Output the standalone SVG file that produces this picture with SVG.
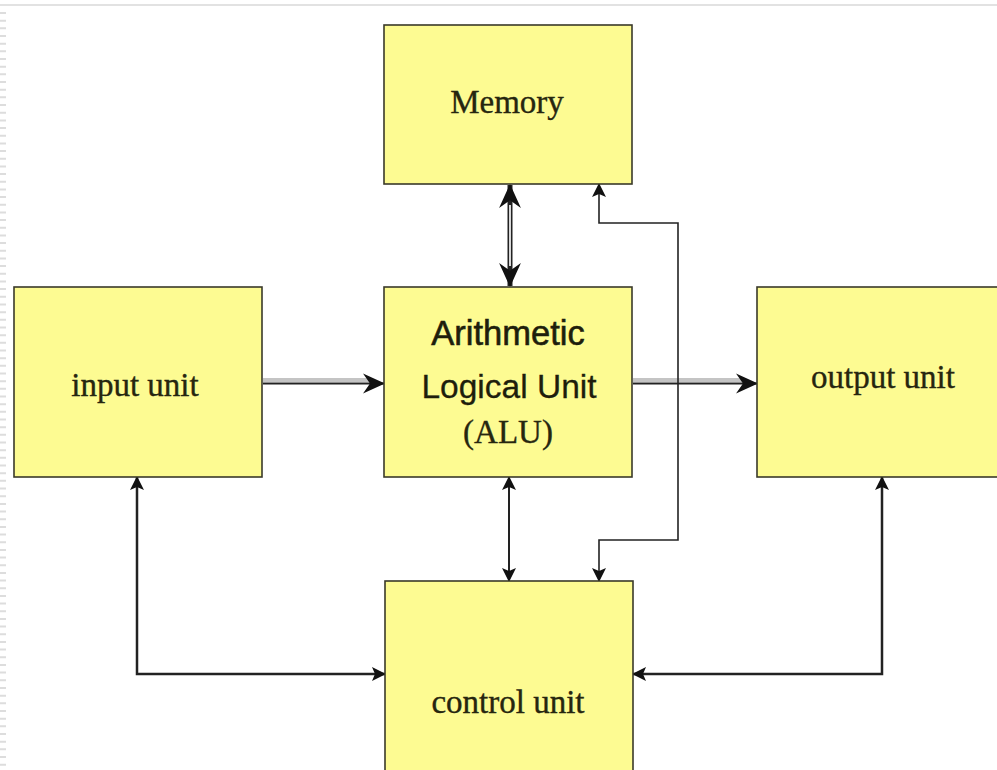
<svg xmlns="http://www.w3.org/2000/svg" width="997" height="770" viewBox="0 0 997 770">
<style>
.box{fill:#fdfb92;stroke:#3a3a2a;stroke-width:1.6}
.serif{font-family:"Liberation Serif","Times New Roman",serif;fill:#26260f;stroke:#26260f;stroke-width:0.35;text-anchor:middle}
.sans{font-family:"Liberation Sans",Arial,sans-serif;fill:#1e1e0c;text-anchor:middle}
.ln{fill:none;stroke:#222;stroke-linejoin:miter}
</style>
<defs>
<marker id="tri" viewBox="0 0 14 14" refX="13" refY="7" markerWidth="14" markerHeight="14" markerUnits="userSpaceOnUse" orient="auto-start-reverse">
<path d="M0,0 L14,7 L0,14 L3,7 Z" fill="#111"/>
</marker>
<marker id="chev" viewBox="0 0 22 22" refX="21" refY="11" markerWidth="22" markerHeight="22" markerUnits="userSpaceOnUse" orient="auto-start-reverse">
<path d="M0,1 L22,11 L0,21 L7,11 Z" fill="#111"/>
</marker>
<marker id="chevbig" viewBox="0 0 22 22" refX="21" refY="11" markerWidth="26" markerHeight="24" markerUnits="userSpaceOnUse" orient="auto-start-reverse">
<path d="M0,1 L22,11 L0,21 L7,11 Z" fill="#111"/>
</marker>
</defs>
<rect width="997" height="770" fill="#ffffff"/>
<line x1="0" y1="5" x2="997" y2="5" stroke="#e2e2e2" stroke-width="2"/>
<line x1="3" y1="12" x2="3" y2="770" stroke="#dddddd" stroke-width="6" stroke-dasharray="2 5.67"/>

<g id="connectors">
<path class="ln" d="M510,185 L510,286" stroke-width="5" marker-start="url(#chevbig)" marker-end="url(#chevbig)"/>
<path d="M510,205 L510,266" stroke="#d8d8d8" stroke-width="2"/>
<line x1="263" y1="380" x2="372" y2="380" stroke="#c4c4c4" stroke-width="4"/>
<path class="ln" d="M263,383.5 L384,383.5" stroke-width="2" marker-end="url(#chev)"/>
<line x1="633" y1="380" x2="745" y2="380" stroke="#c4c4c4" stroke-width="4"/>
<path class="ln" d="M633,383.5 L757,383.5" stroke-width="2" marker-end="url(#chev)"/>
<path class="ln" d="M599,184 L599,223 L678,223 L678,540 L599,540 L599,581" stroke-width="1.6" marker-start="url(#tri)" marker-end="url(#tri)"/>
<path class="ln" d="M509,477 L509,581" stroke-width="2" marker-start="url(#tri)" marker-end="url(#tri)"/>
<path class="ln" d="M137,477 L137,674 L385,674" stroke-width="2.5" marker-start="url(#tri)" marker-end="url(#tri)"/>
<path class="ln" d="M882,477 L882,674 L633,674" stroke-width="2.5" marker-start="url(#tri)" marker-end="url(#tri)"/>
</g>

<g id="memory">
<rect class="box" x="384" y="25" width="248" height="159"/>
<text class="serif" x="507" y="113" font-size="33">Memory</text>
</g>
<g id="alu">
<rect class="box" x="384" y="287" width="248" height="190"/>
<text class="sans" x="508" y="345" font-size="34.5" stroke="#1e1e0c" stroke-width="0.6">Arithmetic</text>
<text class="sans" x="509" y="398" font-size="33.5" stroke="#1e1e0c" stroke-width="0.3">Logical Unit</text>
<text class="serif" x="508" y="443" font-size="33" fill="#3a3a25" stroke="none">(ALU)</text>
</g>
<g id="input-unit">
<rect class="box" x="14" y="287" width="248" height="190"/>
<text class="serif" x="135" y="396" font-size="33">input unit</text>
</g>
<g id="output-unit">
<rect class="box" x="757" y="287" width="260" height="190"/>
<text class="serif" x="883" y="388" font-size="33">output unit</text>
</g>
<g id="control-unit">
<rect class="box" x="385" y="581" width="248" height="210"/>
<text class="serif" x="508" y="713" font-size="33">control unit</text>
</g>
</svg>
